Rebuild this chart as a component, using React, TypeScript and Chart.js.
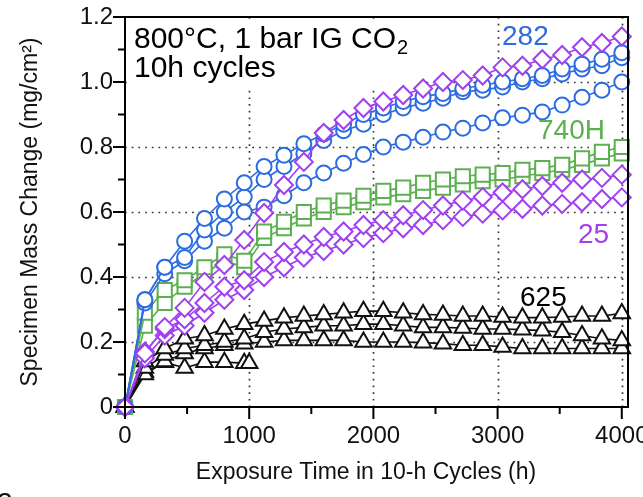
import React, { useEffect, useRef } from "react";
import { Chart, registerables } from "chart.js";

Chart.register(...registerables);

// Exposure time (h)
const HOURS = [0, 160, 320, 480, 640, 800, 960, 1120, 1280, 1440, 1600, 1760, 1920, 2080, 2240, 2400, 2560, 2720, 2880, 3040, 3200, 3360, 3520, 3680, 3840, 4000];
const HOURS_SHORT = [0, 160, 320, 480, 640, 800, 960, 1000];

// Alloy 282 (blue circles)
const A282_1 = [0, 0.33, 0.43, 0.51, 0.58, 0.64, 0.69, 0.74, 0.775, 0.81, 0.84, 0.87, 0.9, 0.92, 0.94, 0.955, 0.965, 0.98, 0.99, 1.0, 1.01, 1.02, 1.04, 1.055, 1.07, 1.09];
const A282_2 = [0, 0.33, 0.43, 0.46, 0.545, 0.6, 0.646, 0.7, 0.74, 0.78, 0.82, 0.85, 0.87, 0.9, 0.92, 0.935, 0.95, 0.97, 0.975, 0.985, 1.0, 1.01, 1.025, 1.04, 1.05, 1.075];
const A282_3 = [0, 0.32, 0.41, 0.45, 0.51, 0.55, 0.6, 0.615, 0.65, 0.69, 0.72, 0.75, 0.777, 0.8, 0.815, 0.83, 0.846, 0.858, 0.874, 0.89, 0.898, 0.908, 0.929, 0.953, 0.975, 1.0];

// Alloy 740H (green squares)
const A740_1 = [0, 0.29, 0.36, 0.39, 0.43, 0.47, 0.45, 0.54, 0.57, 0.6, 0.62, 0.635, 0.65, 0.665, 0.675, 0.69, 0.7, 0.71, 0.715, 0.72, 0.73, 0.735, 0.745, 0.765, 0.785, 0.8];
const A740_2 = [0, 0.25, 0.32, 0.37, 0.41, 0.45, 0.43, 0.52, 0.55, 0.58, 0.6, 0.615, 0.63, 0.645, 0.655, 0.665, 0.675, 0.685, 0.695, 0.7, 0.71, 0.72, 0.73, 0.745, 0.765, 0.78];

// Alloy 25 (purple diamonds)
const A25_1 = [0, 0.165, 0.246, 0.305, 0.385, 0.437, 0.514, 0.597, 0.683, 0.754, 0.843, 0.883, 0.92, 0.94, 0.96, 0.98, 1.0, 1.006, 1.02, 1.045, 1.05, 1.07, 1.083, 1.107, 1.12, 1.14];
const A25_2 = [0, 0.17, 0.24, 0.27, 0.32, 0.37, 0.39, 0.446, 0.477, 0.5, 0.523, 0.54, 0.56, 0.575, 0.59, 0.606, 0.62, 0.635, 0.646, 0.66, 0.67, 0.68, 0.69, 0.7, 0.705, 0.715];
const A25_3 = [0, 0.15, 0.22, 0.25, 0.29, 0.33, 0.36, 0.4, 0.43, 0.46, 0.48, 0.5, 0.52, 0.535, 0.55, 0.56, 0.575, 0.585, 0.595, 0.605, 0.61, 0.62, 0.625, 0.63, 0.64, 0.645];

// Alloy 625 (black triangles)
const A625_1 = [0, 0.14, 0.18, 0.21, 0.22, 0.24, 0.255, 0.265, 0.275, 0.28, 0.285, 0.29, 0.295, 0.295, 0.29, 0.285, 0.283, 0.28, 0.28, 0.277, 0.275, 0.275, 0.277, 0.28, 0.28, 0.288];
const A625_2 = [0, 0.12, 0.16, 0.18, 0.19, 0.2, 0.21, 0.23, 0.24, 0.245, 0.25, 0.25, 0.255, 0.255, 0.25, 0.245, 0.245, 0.243, 0.24, 0.24, 0.238, 0.235, 0.23, 0.22, 0.21, 0.205];
const A625_3 = [0, 0.1, 0.14, 0.165, 0.18, 0.19, 0.195, 0.2, 0.205, 0.205, 0.205, 0.205, 0.2, 0.2, 0.2, 0.198, 0.195, 0.19, 0.19, 0.185, 0.18, 0.18, 0.18, 0.18, 0.18, 0.18];
const A625_SHORT = [0, 0.108, 0.138, 0.12, 0.138, 0.138, 0.135, 0.135];

// Axes
const X_TICKS = [0, 1000, 2000, 3000, 4000];
const X_MINOR = [500, 1500, 2500, 3500];
const Y_TICKS = [0, 0.2, 0.4, 0.6, 0.8, 1.0, 1.2];
const Y_MINOR = [0.1, 0.3, 0.5, 0.7, 0.9, 1.1];
const GRID_X = [1000, 2000, 3000, 4000];
const GRID_Y = [0.2, 0.4, 0.6, 0.8, 1.0];

const BLUE = "#2c6be0";
const GREEN = "#5cb04f";
const PURPLE = "#a040f0";
const BLACK = "#111111";
const FONT = "'Liberation Sans', Arial, Helvetica, sans-serif";

function pts(xs: number[], ys: number[]) {
  return ys.map((y, i) => ({ x: xs[i], y }));
}

function ds(data: number[], xs: number[], color: string, style: string, radius: number) {
  return {
    data: pts(xs, data),
    borderColor: color,
    backgroundColor: "#ffffff",
    borderWidth: 1.6,
    pointStyle: style,
    pointRadius: radius,
    pointBorderWidth: 2,
    pointBorderColor: color,
    pointBackgroundColor: "#ffffff",
    tension: 0,
    clip: false,
  };
}

const decor = {
  id: "decor",
  beforeDatasetsDraw(chart: any) {
    const { ctx, chartArea: a, scales } = chart;
    const x = scales.x;
    const y = scales.y;
    ctx.save();
    ctx.strokeStyle = "#333";
    ctx.lineWidth = 1.7;
    ctx.setLineDash([1.7, 5]);
    for (const v of GRID_X) {
      const px = Math.round(x.getPixelForValue(v)) + 0.5;
      ctx.beginPath();
      ctx.moveTo(px, a.top);
      ctx.lineTo(px, a.bottom);
      ctx.stroke();
    }
    for (const v of GRID_Y) {
      const py = Math.round(y.getPixelForValue(v)) + 0.5;
      ctx.beginPath();
      ctx.moveTo(a.left, py);
      ctx.lineTo(a.right, py);
      ctx.stroke();
    }
    ctx.setLineDash([]);
    ctx.fillStyle = "#ffffff";
    ctx.fillRect(a.left + 2, a.top + 2, 298, 70);
    ctx.restore();
  },
  afterDatasetsDraw(chart: any) {
    const { ctx, chartArea: a, scales } = chart;
    const x = scales.x;
    const y = scales.y;
    ctx.save();
    ctx.strokeStyle = "#000";
    ctx.lineWidth = 2;
    ctx.strokeRect(a.left, a.top, a.right - a.left, a.bottom - a.top);
    const tick = (x1: number, y1: number, x2: number, y2: number) => {
      ctx.beginPath();
      ctx.moveTo(x1, y1);
      ctx.lineTo(x2, y2);
      ctx.stroke();
    };
    for (const v of X_TICKS) {
      const px = x.getPixelForValue(v);
      tick(px, a.bottom, px, a.bottom + 12);
    }
    for (const v of X_MINOR) {
      const px = x.getPixelForValue(v);
      tick(px, a.bottom, px, a.bottom + 7);
    }
    for (const v of Y_TICKS) {
      const py = y.getPixelForValue(v);
      tick(a.left - 12, py, a.left, py);
    }
    for (const v of Y_MINOR) {
      const py = y.getPixelForValue(v);
      tick(a.left - 7, py, a.left, py);
    }

    // annotations
    ctx.textAlign = "left";
    ctx.textBaseline = "alphabetic";
    ctx.fillStyle = "#000";
    ctx.font = `30px ${FONT}`;
    const t1 = "800°C, 1 bar IG CO";
    ctx.fillText(t1, 134, 48);
    const w1 = ctx.measureText(t1).width;
    ctx.font = `20px ${FONT}`;
    ctx.fillText("2", 134 + w1 + 1, 54);
    ctx.font = `30px ${FONT}`;
    ctx.fillText("10h cycles", 134, 77);

    ctx.font = `28px ${FONT}`;
    ctx.fillStyle = BLUE;
    ctx.fillText("282", 502, 45);
    ctx.fillStyle = GREEN;
    ctx.fillText("740H", 538, 139);
    ctx.fillStyle = PURPLE;
    ctx.fillText("25", 578, 243);
    ctx.fillStyle = "#000";
    ctx.fillText("625", 520, 306);

    // x axis title
    ctx.font = `23px ${FONT}`;
    ctx.textAlign = "center";
    ctx.textBaseline = "middle";
    ctx.fillStyle = "#111";
    ctx.fillText("Exposure Time in 10-h Cycles (h)", 366, 473);

    // stray panel glyph at bottom-left edge
    ctx.textAlign = "left";
    ctx.textBaseline = "alphabetic";
    ctx.font = `28px ${FONT}`;
    ctx.fillText("2", -3, 512);
    ctx.restore();
  },
};

export default function App() {
  const ref = useRef<HTMLCanvasElement | null>(null);
  useEffect(() => {
    if (!ref.current) return;
    const chart = new Chart(ref.current, {
      type: "line",
      data: {
        datasets: [
          ds(A25_1, HOURS, PURPLE, "rectRot", 9),
          ds(A25_2, HOURS, PURPLE, "rectRot", 9),
          ds(A25_3, HOURS, PURPLE, "rectRot", 9),
          ds(A282_1, HOURS, BLUE, "circle", 7.5),
          ds(A282_2, HOURS, BLUE, "circle", 7.5),
          ds(A282_3, HOURS, BLUE, "circle", 7.5),
          ds(A740_1, HOURS, GREEN, "rect", 10),
          ds(A740_2, HOURS, GREEN, "rect", 10),
          ds(A625_1, HOURS, BLACK, "triangle", 9.5),
          ds(A625_2, HOURS, BLACK, "triangle", 9.5),
          ds(A625_3, HOURS, BLACK, "triangle", 9.5),
          ds(A625_SHORT, HOURS_SHORT, BLACK, "triangle", 9.5),
        ] as any,
      },
      options: {
        animation: false,
        responsive: false,
        maintainAspectRatio: false,
        layout: { padding: { left: 0, right: 15, top: 17, bottom: 0 } },
        plugins: { legend: { display: false }, tooltip: { enabled: false } },
        scales: {
          x: {
            type: "linear",
            min: 0,
            max: 4050,
            grid: { display: false, drawTicks: false },
            border: { display: false },
            afterBuildTicks: (s: any) => {
              s.ticks = X_TICKS.map((v) => ({ value: v }));
            },
            afterFit: (s: any) => {
              s.height = 90;
              s.paddingLeft = 0;
              s.paddingRight = 0;
            },
            ticks: {
              font: { family: FONT, size: 24 },
              color: "#111",
              padding: 15,
              maxRotation: 0,
              autoSkip: false,
              callback: (v: any) => String(v),
            },
          },
          y: {
            type: "linear",
            min: 0,
            max: 1.2,
            grid: { display: false, drawTicks: false },
            border: { display: false },
            afterBuildTicks: (s: any) => {
              s.ticks = Y_TICKS.map((v) => ({ value: v }));
            },
            afterFit: (s: any) => {
              s.width = 125;
              s.paddingTop = 0;
              s.paddingBottom = 0;
            },
            ticks: {
              font: { family: FONT, size: 24 },
              color: "#111",
              padding: 12,
              autoSkip: false,
              callback: (v: any) => (v === 0 ? "0" : Number(v).toFixed(1)),
            },
            title: {
              display: true,
              text: "Specimen Mass Change (mg/cm²)",
              font: { family: FONT, size: 23 },
              color: "#111",
              padding: { top: 17, bottom: 0 },
            },
          },
        },
      },
      plugins: [decor],
    });
    return () => chart.destroy();
  }, []);
  return (
    <div style={{ position: "fixed", left: 0, top: 0, width: 643, height: 497, background: "#fff" }}>
      <canvas ref={ref} width={643} height={497} style={{ display: "block" }} />
    </div>
  );
}
